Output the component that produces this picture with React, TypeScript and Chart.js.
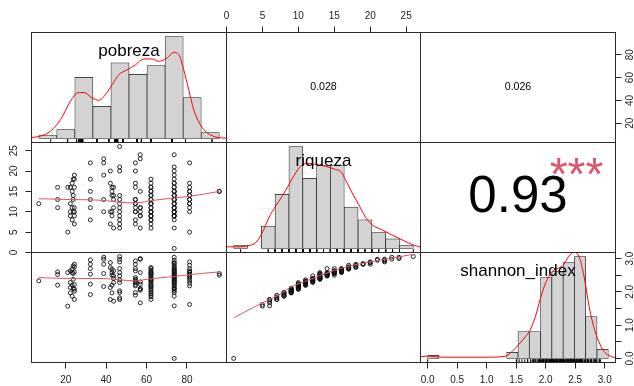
import React, { useEffect, useRef } from 'react';
import { Chart, registerables } from 'chart.js';

Chart.register(...registerables);

// ---------------- data ----------------
const VAR_NAMES = ['pobreza', 'riqueza', 'shannon_index'];

const POBREZA = [
  6.65,
  16.0, 16.0, 16.0,
  21.0, 21.0,
  24.3, 23.7, 24.3, 23.2, 22.3, 24.3, 23.2, 23.7, 23.7, 22.3, 24.3, 23.2, 22.3, 23.7, 24.3, 22.3, 24.3, 23.2, 24.3,
  32.2, 32.2, 32.2, 32.2, 32.2, 32.2,
  38.8, 38.8, 38.8, 38.8, 38.8,
  42.1, 42.1, 42.9, 43.7, 42.9, 42.9, 43.7, 43.7, 43.7, 42.9, 42.1, 42.9, 42.1, 43.7,
  46.7, 46.7, 46.7, 46.7, 46.7, 46.7, 46.7, 46.7, 46.7, 46.7, 46.7, 46.7,
  54.5, 54.5, 54.5, 54.5, 54.5, 54.5, 54.5, 54.5, 54.5, 54.5, 54.5, 54.5, 54.5,
  56.9, 56.9, 56.9, 56.9, 56.9, 56.9, 56.9, 56.9, 56.9,
  62.2, 62.2, 62.2, 62.2, 62.2, 62.2, 62.2, 62.2, 62.2, 62.2, 62.2, 62.2, 62.2, 62.2, 62.2, 62.2, 62.2, 62.2, 62.2, 62.2, 62.2, 62.2, 62.2, 62.2, 62.2,
  73.7, 73.7, 73.7, 73.7, 73.7, 73.7, 73.7, 73.7, 73.7, 73.7, 73.7, 73.7, 73.7, 73.7, 73.7, 73.7, 73.7, 73.7, 73.7, 73.7, 73.7, 73.7, 73.7, 73.7, 73.7, 73.7, 73.7, 73.7, 73.7, 73.7, 73.7, 73.7, 73.7, 73.7, 73.7,
  81.3, 81.3, 81.3, 81.3, 81.3, 81.3, 81.3, 81.3, 81.3, 81.3, 81.3, 81.3, 81.3, 81.3,
  96.0, 96.0,
];

const RIQUEZA = [
  12,
  16, 13, 11,
  5, 16,
  19, 18, 18, 17, 16, 16, 15, 14, 13, 12, 11, 11, 10, 10, 10, 9, 9, 8, 7,
  22, 18, 15, 13, 11, 8,
  23, 22, 19, 13, 10,
  20, 17, 16, 16, 15, 14, 14, 13, 11, 10, 10, 9, 7, 6,
  26, 21, 20, 14, 13, 12, 11, 10, 9, 8, 7, 6,
  22, 20, 17, 16, 13, 13, 12, 12, 11, 10, 10, 8, 7,
  24, 23, 15, 11, 11, 10, 9, 9, 6,
  18, 17, 16, 16, 15, 15, 14, 14, 13, 13, 12, 12, 12, 11, 11, 10, 10, 10, 9, 9, 9, 8, 8, 7, 6,
  24, 21, 20, 19, 18, 17, 17, 16, 16, 15, 15, 15, 14, 14, 14, 13, 13, 13, 12, 12, 12, 11, 11, 11, 10, 10, 10, 10, 9, 9, 9, 9, 8, 6, 1,
  22, 17, 16, 15, 15, 14, 14, 13, 13, 12, 12, 11, 10, 5,
  15, 15,
];

const SHANNON = [
  2.33,
  2.60, 2.52, 2.20,
  1.57, 2.58,
  2.83, 2.78, 2.75, 2.68, 2.63, 2.60, 2.58, 2.55, 2.38, 2.28, 2.22, 2.20, 2.13, 2.10, 2.08, 1.97, 2.02, 1.87, 1.77,
  2.96, 2.83, 2.70, 2.53, 2.23, 1.92,
  3.04, 2.98, 2.83, 2.55, 2.16,
  2.88, 2.73, 2.68, 2.63, 2.58, 2.50, 2.48, 2.40, 2.28, 2.20, 2.13, 1.97, 1.77, 1.72,
  3.06, 2.98, 2.90, 2.70, 2.58, 2.48, 2.36, 2.28, 2.03, 1.98, 1.82, 1.77,
  2.93, 2.83, 2.70, 2.63, 2.43, 2.38, 2.35, 2.30, 2.28, 2.18, 2.22, 1.98, 1.90,
  3.00, 2.98, 2.58, 2.23, 2.30, 2.08, 2.10, 2.05, 1.67,
  2.73, 2.70, 2.65, 2.60, 2.58, 2.55, 2.53, 2.48, 2.45, 2.40, 2.38, 2.35, 2.33, 2.30, 2.25, 2.20, 2.18, 2.15, 2.10, 2.05, 2.00, 1.95, 1.90, 1.85, 1.77,
  3.04, 2.95, 2.88, 2.85, 2.80, 2.75, 2.72, 2.68, 2.65, 2.63, 2.60, 2.58, 2.55, 2.53, 2.50, 2.48, 2.45, 2.43, 2.40, 2.38, 2.35, 2.33, 2.30, 2.28, 2.25, 2.20, 2.18, 2.13, 2.10, 2.08, 2.03, 1.98, 1.87, 1.58, 0.00,
  2.90, 2.80, 2.70, 2.63, 2.60, 2.58, 2.53, 2.48, 2.45, 2.40, 2.33, 2.26, 2.18, 1.62,
  2.55, 2.50,
];

// histogram breaks and counts (diagonal panels)
const POB_BREAKS = [0, 10, 20, 30, 40, 50, 60, 70, 80, 90, 100];
const POB_COUNTS = [1, 3, 21, 11, 26, 22, 25, 35, 14, 2];
const RIQ_BREAKS = [0, 2, 4, 6, 8, 10, 12, 14, 16, 18, 20, 22, 24, 26];
const RIQ_COUNTS = [1, 0, 7, 17, 32, 22, 26, 26, 13, 9, 5, 3, 1];
const SHA_BREAKS = [0, 0.2, 0.4, 0.6, 0.8, 1.0, 1.2, 1.4, 1.6, 1.8, 2.0, 2.2, 2.4, 2.6, 2.8, 3.0, 3.2];
const SHA_COUNTS = [1, 0, 0, 0, 0, 0, 0, 2, 9, 9, 27, 29, 32, 34, 14, 3];

// density curves (in count units of each histogram)
const POB_DENS_X = [-4, 1.0, 6.5, 12.1, 17.6, 21.3, 25.0, 29.6, 33.3, 37.0, 40.7, 44.4, 49.0, 53.6, 58.2, 62.8, 66.5, 71.2, 74.8, 77.6, 80.3, 83.1, 85.9, 89.6, 93.3, 98.8, 104];
const POB_DENS_Y = [0.3, 0.8, 2.5, 6.5, 12.8, 15.6, 15.8, 13.9, 13.1, 15.1, 18.5, 21.9, 23.6, 25.3, 27.3, 27.3, 26.5, 27.7, 29.6, 28.8, 23.6, 16.7, 9.8, 4.6, 1.9, 0.4, 0.1];
const RIQ_DENS_X = [-1.04, 0.26, 1.71, 3.16, 4.13, 5.08, 6.05, 7.02, 7.98, 8.95, 9.67, 10.64, 11.84, 13.29, 14.74, 15.46, 16.18, 17.15, 18.11, 19.08, 20.05, 21.5, 22.94, 24.39, 25.84, 27.04];
const RIQ_DENS_Y = [0.5, 0.5, 0.7, 1.8, 4.9, 9.6, 13.2, 16.4, 20.0, 23.7, 25.8, 26.7, 26.4, 25.8, 24.8, 24.2, 21.6, 17.4, 13.7, 9.8, 7.4, 5.8, 4.2, 2.7, 1.2, 0.4];
const SHA_DENS_X = [-0.128, 0.0, 0.15, 0.4, 1.0, 1.38, 1.50, 1.61, 1.73, 1.82, 1.91, 2.0, 2.09, 2.21, 2.32, 2.41, 2.50, 2.59, 2.68, 2.77, 2.86, 2.94, 3.03, 3.12, 3.21, 3.328];
const SHA_DENS_Y = [0.5, 0.8, 0.5, 0.4, 0.4, 0.75, 2.4, 4.6, 7.2, 9.6, 14.1, 20.2, 25.2, 29.1, 30.2, 31.3, 34.1, 35.4, 34.1, 27.4, 17.4, 10.7, 5.7, 2.4, 1.0, 0.2];

// smoothing lines (lower panels)
const LOW_PR_X = [6.65, 22.3, 38.8, 47.0, 54.5, 63.5, 73.4, 81.6, 96.0];
const LOW_PR_Y = [13.2, 13.0, 12.8, 12.3, 12.2, 12.8, 13.4, 13.8, 15.0];
const LOW_PS_X = [6.65, 22.3, 38.8, 47.0, 54.5, 60.2, 73.4, 81.6, 96.0];
const LOW_PS_Y = [2.43, 2.40, 2.40, 2.36, 2.33, 2.38, 2.46, 2.52, 2.60];
const LOW_RS_X = [1, 5, 7, 9, 11.5, 14, 16, 18.5, 21, 23, 26];
const LOW_RS_Y = [1.22, 1.67, 1.87, 2.15, 2.36, 2.57, 2.71, 2.84, 2.94, 3.01, 3.13];

// correlation texts (upper panels)
const COR_PR = '0.028';
const COR_PS = '0.026';
const COR_RS = '0.93';
const SIG_RS = '***';

// axis ticks
const POB_TICKS = [20, 40, 60, 80];
const RIQ_TICKS = [0, 5, 10, 15, 20, 25];
const SHA_TICKS = [0, 0.5, 1.0, 1.5, 2.0, 2.5, 3.0];
const SHA_RIGHT_LABELS = [0, 1, 2, 3];

// ---------------- layout ----------------
const W = 634;
const H = 386;
const GX = [31.5, 226.5, 420.5, 615.5];
const GY = [32.5, 142.5, 252.5, 362.5];
const FONT = '"Liberation Sans", Arial, Helvetica, sans-serif';

function ext(values: number[]): [number, number] {
  const lo = Math.min(...values);
  const hi = Math.max(...values);
  const d = (hi - lo) * 0.04;
  return [lo - d, hi + d];
}

export default function App() {
  const ref = useRef<HTMLCanvasElement>(null);

  useEffect(() => {
    if (!ref.current) return;
    const [pMin, pMax] = ext(POBREZA);
    const [rMin, rMax] = ext(RIQUEZA);
    const [sMin, sMax] = ext(SHANNON);
    const hb = [
      { breaks: POB_BREAKS, counts: POB_COUNTS, vals: POBREZA, dx: POB_DENS_X, dy: POB_DENS_Y },
      { breaks: RIQ_BREAKS, counts: RIQ_COUNTS, vals: RIQUEZA, dx: RIQ_DENS_X, dy: RIQ_DENS_Y },
      { breaks: SHA_BREAKS, counts: SHA_COUNTS, vals: SHANNON, dx: SHA_DENS_X, dy: SHA_DENS_Y },
    ];

    const axis = (
      position: string, min: number, max: number, ticks: number[],
      fmt: (v: number) => string, padding: number, vertical: boolean,
    ) => ({
      type: 'linear', position, min, max, bounds: 'data', offset: false,
      afterBuildTicks: (s: any) => { s.ticks = ticks.map((v) => ({ value: v })); },
      grid: { display: true, drawOnChartArea: false, drawTicks: true, tickLength: 6, color: '#222', lineWidth: 1, offset: false },
      border: { display: false },
      ticks: {
        autoSkip: false, padding, color: '#222',
        font: { family: FONT, size: 10 },
        minRotation: vertical ? 90 : 0, maxRotation: vertical ? 90 : 0,
        crossAlign: vertical ? 'center' : 'near',
        callback: (v: number) => fmt(v),
      },
    });
    const hidden = (position: string, min: number, max: number) => ({
      type: 'linear', position, min, max, bounds: 'data', offset: false, display: false,
      grid: { offset: false },
      afterBuildTicks: (s: any) => { s.ticks = []; },
    });

    const scales: any = {
      xP: axis('bottom', pMin, pMax, POB_TICKS, (v) => String(v), 6, false),
      xR: axis('top', rMin, rMax, RIQ_TICKS, (v) => String(v), 4, false),
      xS: axis('bottom', sMin, sMax, SHA_TICKS, (v) => v.toFixed(1), 6, false),
      yP: axis('right', pMin, pMax, POB_TICKS, (v) => String(v), 3, true),
      yR: axis('left', rMin, rMax, RIQ_TICKS, (v) => String(v), 6, true),
      yS: axis('right', sMin, sMax, SHA_TICKS, (v) => (SHA_RIGHT_LABELS.includes(v) ? v.toFixed(1) : ''), 2, true),
    };
    hb.forEach((h, i) => {
      const [xa, xb] = ext([h.breaks[0], h.breaks[h.breaks.length - 1]]);
      const [ya, yb] = ext([0, Math.max(...h.counts)]);
      scales['hx' + i] = hidden('bottom', xa, xb);
      scales['hy' + i] = hidden('left', ya, yb);
    });

    const datasets: any[] = [];
    hb.forEach((h, i) => {
      const [ya, yb] = ext([0, Math.max(...h.counts)]);
      datasets.push({
        type: 'bar', xAxisID: 'hx' + i, yAxisID: 'hy' + i, order: 5,
        data: h.counts.map((c, k) => ({ x: (h.breaks[k] + h.breaks[k + 1]) / 2, y: c })),
        backgroundColor: '#D3D3D3', borderColor: '#1a1a1a', borderWidth: 0.7, borderSkipped: false,
        barPercentage: 1, categoryPercentage: 1, grouped: false,
      });
      datasets.push({
        type: 'line', xAxisID: 'hx' + i, yAxisID: 'hy' + i, order: 2,
        data: h.dx.map((x, k) => ({ x, y: h.dy[k] })),
        borderColor: '#FF0000', borderWidth: 1, pointRadius: 0, fill: false,
        cubicInterpolationMode: 'monotone',
      });
      const rugY = ya + (yb - ya) * 0.015;
      datasets.push({
        type: 'scatter', xAxisID: 'hx' + i, yAxisID: 'hy' + i, order: 1,
        data: h.vals.map((x) => ({ x, y: rugY })),
        pointStyle: 'line', rotation: 90, pointRadius: 1.65, borderColor: '#000', borderWidth: 1,
      });
    });

    const pts = (xs: number[], ys: number[], xid: string, yid: string) => ({
      type: 'scatter', xAxisID: xid, yAxisID: yid, order: 3,
      data: xs.map((x, k) => ({ x, y: ys[k] })),
      pointStyle: 'circle', pointRadius: 2, borderWidth: 0.9,
      borderColor: '#111', backgroundColor: 'rgba(0,0,0,0)',
    });
    const smooth = (xs: number[], ys: number[], xid: string, yid: string) => ({
      type: 'line', xAxisID: xid, yAxisID: yid, order: 2,
      data: xs.map((x, k) => ({ x, y: ys[k] })),
      borderColor: '#DF536B', borderWidth: 1, pointRadius: 0, fill: false,
      cubicInterpolationMode: 'monotone',
    });
    datasets.push(pts(POBREZA, RIQUEZA, 'xP', 'yR'));
    datasets.push(pts(POBREZA, SHANNON, 'xP', 'yS'));
    datasets.push(pts(RIQUEZA, SHANNON, 'xR', 'yS'));
    datasets.push(smooth(LOW_PR_X, LOW_PR_Y, 'xP', 'yR'));
    datasets.push(smooth(LOW_PS_X, LOW_PS_Y, 'xP', 'yS'));
    datasets.push(smooth(LOW_RS_X, LOW_RS_Y, 'xR', 'yS'));

    const pairsPlugin = {
      id: 'pairsLayout',
      afterLayout(chart: any) {
        const s = chart.scales;
        const put = (id: string, l: number, t: number, r: number, b: number) => {
          const sc = s[id];
          sc.left = l; sc.top = t; sc.right = r; sc.bottom = b;
          sc.width = r - l; sc.height = b - t;
          sc.configure();
        };
        put('xP', GX[0], GY[3], GX[1], H);
        put('xR', GX[1], 0, GX[2], GY[0]);
        put('xS', GX[2], GY[3], GX[3], H);
        put('yP', GX[3], GY[0], W, GY[1]);
        put('yR', 0, GY[1], GX[0], GY[2]);
        put('yS', GX[3], GY[2], W, GY[3]);
        for (let i = 0; i < 3; i++) {
          put('hx' + i, GX[i], GY[i], GX[i + 1], GY[i + 1]);
          put('hy' + i, GX[i], GY[i], GX[i + 1], GY[i + 1]);
        }
        const ca = chart.chartArea;
        ca.left = GX[0]; ca.top = GY[0]; ca.right = GX[3]; ca.bottom = GY[3];
        ca.width = GX[3] - GX[0]; ca.height = GY[3] - GY[0];
      },
      afterDatasetsDraw(chart: any) {
        const ctx = chart.ctx;
        ctx.save();
        ctx.strokeStyle = '#2a2a2a';
        ctx.lineWidth = 1;
        for (let r = 0; r < 3; r++) {
          for (let c = 0; c < 3; c++) {
            ctx.strokeRect(GX[c], GY[r], GX[c + 1] - GX[c], GY[r + 1] - GY[r]);
          }
        }
        const px = (c: number, u: number) => GX[c] + u * (GX[c + 1] - GX[c]);
        const py = (r: number, v: number) => GY[r + 1] - v * (GY[r + 1] - GY[r]);
        ctx.textAlign = 'center';
        ctx.textBaseline = 'middle';
        ctx.fillStyle = '#000';
        // diagonal labels
        ctx.font = `17px ${FONT}`;
        for (let i = 0; i < 3; i++) {
          ctx.fillText(VAR_NAMES[i], px(i, 0.5), py(i, 0.5 + 1 / 3));
        }
        // correlations
        ctx.font = `10.6px ${FONT}`;
        ctx.fillText(COR_PR, px(1, 0.5), py(0, 0.5));
        ctx.fillText(COR_PS, px(2, 0.5), py(0, 0.5));
        ctx.font = `51px ${FONT}`;
        ctx.fillText(COR_RS, px(2, 0.5), py(1, 0.5));
        ctx.fillStyle = '#DF536B';
        ctx.font = `46px ${FONT}`;
        ctx.fillText(SIG_RS, px(2, 0.8), py(1, 0.8) + 13);
        ctx.restore();
      },
    };

    const chart = new Chart(ref.current, {
      type: 'scatter',
      data: { datasets },
      options: {
        responsive: false,
        animation: false,
        events: [],
        layout: { padding: 0 },
        plugins: { legend: { display: false }, tooltip: { enabled: false } },
        scales,
      } as any,
      plugins: [pairsPlugin],
    } as any);
    return () => chart.destroy();
  }, []);

  return (
    <div style={{ position: 'absolute', left: 0, top: 0, width: W, height: H, background: '#fff' }}>
      <canvas ref={ref} width={W} height={H} style={{ display: 'block', width: W, height: H }} />
    </div>
  );
}
